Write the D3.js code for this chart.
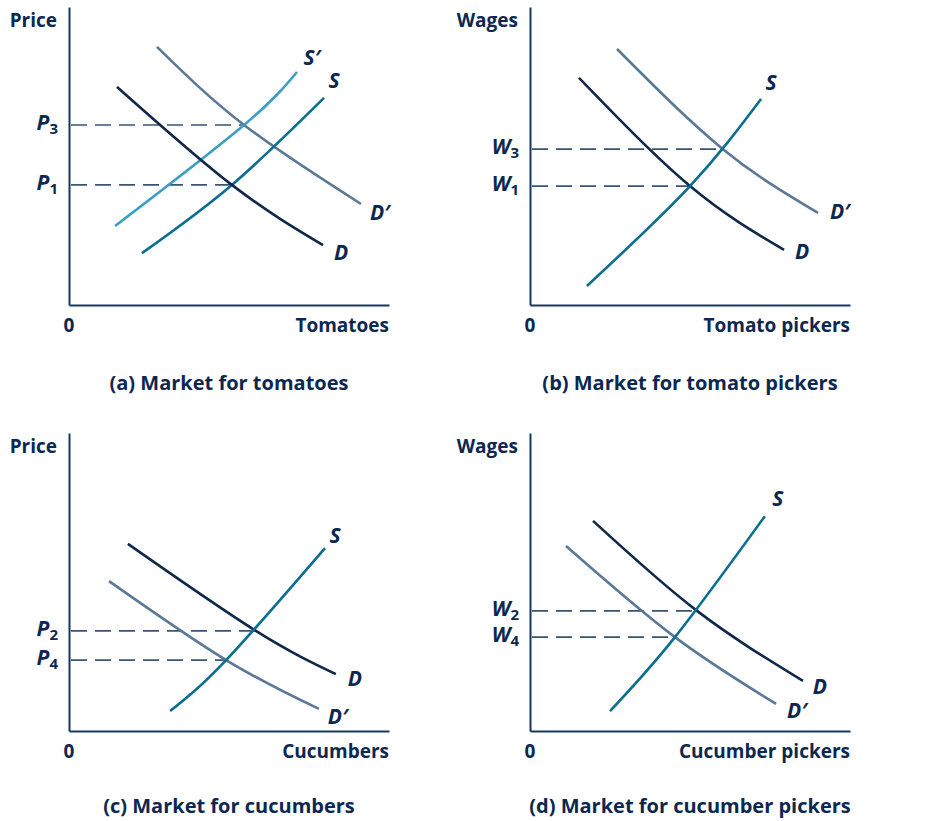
<!DOCTYPE html>
<meta charset="utf-8">
<script src="https://d3js.org/d3.v7.min.js"></script>
<style>
  body { margin: 0; background: #fff; }
  text { font-family: "Open Sans", "Noto Sans", sans-serif; font-weight: 700; fill: #0c2851; }
</style>
<div id="chart"></div>
<script>

// ---- data (axes run 0..100 in each panel) ----
var captions = ["(a) Market for tomatoes", "(b) Market for tomato pickers",
                "(c) Market for cucumbers", "(d) Market for cucumber pickers"];
var yTitles = ["Price", "Wages", "Price", "Wages"];
var xTitles = ["Tomatoes", "Tomato pickers", "Cucumbers", "Cucumber pickers"];

// (a) tomatoes
var tomatoD  = [[15, 73.2], [50.9, 40.3], [79.4, 20.1]];
var tomatoD2 = [[27.5, 86.6], [54.7, 60.4], [91.25, 33.9]];
var tomatoS  = [[22.8, 17.4], [50.9, 40.3], [79.7, 69.5]];
var tomatoS2 = [[14.4, 26.5], [54.7, 60.4], [71.25, 78.2]];
var tomatoLevels = [{sym: "P", sub: "3", q: 54.7, p: 60.4}, {sym: "P", sub: "1", q: 50.9, p: 40.3}];

// (b) tomato pickers
var pickerD  = [[15.3, 76.2], [50, 39.9], [79.4, 18.5]];
var pickerD2 = [[27.2, 85.9], [60.3, 52.3], [90, 30.9]];
var pickerS  = [[17.8, 6.4], [50, 39.9], [72.2, 69.1]];
var pickerLevels = [{sym: "W", sub: "3", q: 60.3, p: 52.3}, {sym: "W", sub: "1", q: 50, p: 39.9}];

// (c) cucumbers
var cucumberD  = [[18.4, 62.8], [58.4, 33.6], [83.4, 19.1]];
var cucumberD2 = [[12.5, 50.3], [49.1, 23.8], [78.1, 7.4]];
var cucumberS  = [[31.6, 6.7], [49.1, 23.8], [80, 61.4]];
var cucumberLevels = [{sym: "P", sub: "2", q: 58.4, p: 33.6}, {sym: "P", sub: "4", q: 49.1, p: 23.8}];

// (d) cucumber pickers
var cucPickerD  = [[19.7, 70.5], [52.2, 40.3], [85.3, 16.8]];
var cucPickerD2 = [[11.25, 62.1], [45.3, 31.5], [76.9, 9.1]];
var cucPickerS  = [[25, 6.7], [45.3, 31.5], [73.4, 72.1]];
var cucPickerLevels = [{sym: "W", sub: "2", q: 52.2, p: 40.3}, {sym: "W", sub: "4", q: 45.3, p: 31.5}];

// ---- layout ----
var W = 937, H = 821;
var plotW = 320, plotH = 298;

var colors = { "D": "#0f2748", "D′": "#5b7897", "S": "#0a6e91", "S′": "#3b9ec3" };

var panels = [
  { x0: 69,  y0: 305, cy: 390, levels: tomatoLevels,
    curves: [ {k: "D′", pts: tomatoD2, dx: 19, dy: 8},  {k: "S′", pts: tomatoS2, dx: 15, dy: -15},
              {k: "S",  pts: tomatoS,  dx: 10, dy: -17}, {k: "D",  pts: tomatoD,  dx: 18, dy: 7} ] },
  { x0: 530, y0: 305, cy: 390, levels: pickerLevels,
    curves: [ {k: "D′", pts: pickerD2, dx: 22, dy: -1}, {k: "D", pts: pickerD, dx: 18, dy: 2},
              {k: "S",  pts: pickerS,  dx: 10, dy: -17} ] },
  { x0: 69,  y0: 731, cy: 813, levels: cucumberLevels,
    curves: [ {k: "D′", pts: cucumberD2, dx: 19, dy: 7}, {k: "D", pts: cucumberD, dx: 19, dy: 4},
              {k: "S",  pts: cucumberS,  dx: 10, dy: -13} ] },
  { x0: 530, y0: 731, cy: 813, levels: cucPickerLevels,
    curves: [ {k: "D′", pts: cucPickerD2, dx: 21, dy: 7}, {k: "D", pts: cucPickerD, dx: 17, dy: 6},
              {k: "S",  pts: cucPickerS,  dx: 13, dy: -18} ] }
];

var svg = d3.select("#chart")
  .append("svg")
    .attr("width", W)
    .attr("height", H);

panels.forEach(function(pn, i) {

  var x = d3.scaleLinear().domain([0, 100]).range([pn.x0, pn.x0 + plotW]);
  var y = d3.scaleLinear().domain([0, 100]).range([pn.y0, pn.y0 - plotH]);

  var g = svg.append("g");

  // dashed equilibrium lines
  g.selectAll(".lvl")
    .data(pn.levels)
    .enter()
    .append("line")
      .attr("x1", x(0))
      .attr("x2", function(d) { return x(d.q); })
      .attr("y1", function(d) { return y(d.p); })
      .attr("y2", function(d) { return y(d.p); })
      .attr("stroke", "#3a5474")
      .attr("stroke-width", 1.6)
      .attr("stroke-dasharray", "16,8")
      .attr("stroke-dashoffset", -2);

  // curves
  var line = d3.line()
    .x(function(d) { return x(d[0]); })
    .y(function(d) { return y(d[1]); })
    .curve(d3.curveNatural);

  g.selectAll(".curve")
    .data(pn.curves)
    .enter()
    .append("path")
      .attr("d", function(d) { return line(d.pts); })
      .attr("fill", "none")
      .attr("stroke", function(d) { return colors[d.k]; })
      .attr("stroke-width", 2.6);

  // curve labels
  g.selectAll(".clab")
    .data(pn.curves)
    .enter()
    .append("text")
      .attr("x", function(d) { return x(d.pts[d.pts.length - 1][0]) + d.dx; })
      .attr("y", function(d) { return y(d.pts[d.pts.length - 1][1]) + d.dy; })
      .attr("dy", "0.36em")
      .attr("text-anchor", "middle")
      .style("font-size", "21px")
      .style("font-style", "italic")
      .text(function(d) { return d.k; });

  // axes (lines only)
  g.append("g")
    .attr("transform", "translate(0," + pn.y0 + ")")
    .call(d3.axisBottom(x).tickValues([]).tickSizeOuter(0))
    .select(".domain").attr("stroke", "#163760").attr("stroke-width", 2);

  g.append("g")
    .attr("transform", "translate(" + pn.x0 + ",0)")
    .call(d3.axisLeft(y).tickValues([]).tickSizeOuter(0))
    .select(".domain").attr("stroke", "#163760").attr("stroke-width", 2);

  // level labels with subscripts
  var lab = g.selectAll(".plab")
    .data(pn.levels)
    .enter()
    .append("text")
      .attr("x", x(0) - 11)
      .attr("y", function(d) { return y(d.p) + 5; })
      .attr("text-anchor", "end")
      .style("font-size", "21px");
  lab.append("tspan")
    .style("font-style", "italic")
    .text(function(d) { return d.sym; });
  lab.append("tspan")
    .attr("dy", 4)
    .style("font-size", "15px")
    .text(function(d) { return d.sub; });

  // axis titles
  g.append("text")
    .attr("x", pn.x0 - 12)
    .attr("y", pn.y0 - plotH + 20)
    .attr("text-anchor", "end")
    .style("font-size", "19px")
    .text(yTitles[i]);

  g.append("text")
    .attr("x", pn.x0)
    .attr("y", pn.y0 + 27)
    .attr("text-anchor", "middle")
    .style("font-size", "19px")
    .text("0");

  g.append("text")
    .attr("x", pn.x0 + plotW)
    .attr("y", pn.y0 + 27)
    .attr("text-anchor", "end")
    .style("font-size", "19px")
    .text(xTitles[i]);

  // caption
  g.append("text")
    .attr("x", pn.x0 + 160)
    .attr("y", pn.cy)
    .attr("text-anchor", "middle")
    .style("font-size", "20px")
    .text(captions[i]);
});

</script>
